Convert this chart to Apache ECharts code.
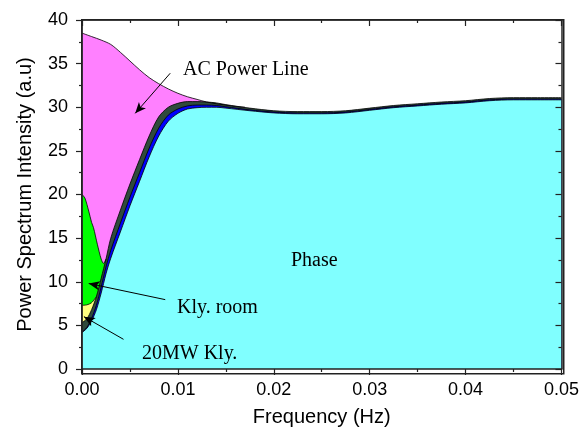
<!DOCTYPE html>
<html>
<head>
<meta charset="utf-8">
<script src="https://cdn.jsdelivr.net/npm/echarts@6/dist/echarts.min.js"></script>
<style>
  html, body { margin: 0; padding: 0; background: #fff; }
  #chart { width: 582px; height: 432px; }
</style>
</head>
<body>
<div id="chart"></div>
<script>
// frequency grid for the phase curve and the thin layers stacked on it
var freq = [0, 0.0005, 0.001, 0.0015, 0.002, 0.0025, 0.003, 0.004, 0.005, 0.006, 0.007, 0.008, 0.009,
  0.010, 0.011, 0.012, 0.013, 0.014, 0.015, 0.0175, 0.02, 0.0225, 0.025, 0.0275, 0.03, 0.0325,
  0.035, 0.0375, 0.04, 0.0425, 0.045, 0.0475, 0.05];
var phase = [4.2, 4.65, 5.5, 6.8, 8.7, 10.9, 12.7, 15.7, 18.7, 21.5, 24.3, 26.7, 28.4,
  29.3, 29.8, 29.95, 30.0, 30.0, 29.9, 29.6, 29.35, 29.25, 29.25, 29.35, 29.65, 29.95,
  30.15, 30.35, 30.5, 30.75, 30.85, 30.85, 30.85];
var bandBlue = [4.2, 4.75, 5.8, 7.3, 9.4, 11.7, 13.6, 16.7, 19.7, 22.5, 25.3, 27.6, 29.1,
  29.8, 30.15, 30.25, 30.25, 30.2, 30.05, 29.7, 29.45, 29.35, 29.35, 29.45, 29.75, 30.05,
  30.25, 30.45, 30.6, 30.85, 30.95, 30.95, 30.95];
var bandDark = [5.3, 5.75, 6.8, 8.3, 10.4, 12.6, 15.0, 18.2, 21.2, 24.0, 26.7, 28.9, 30.0,
  30.45, 30.65, 30.65, 30.6, 30.5, 30.3, 29.9, 29.6, 29.5, 29.5, 29.6, 29.9, 30.2,
  30.4, 30.6, 30.75, 31.0, 31.1, 31.1, 31.1];

// 20MW klystron layer (only near zero)
var kly20Freq = [0, 0.0005, 0.001, 0.0015];
var kly20 = [7.3, 7.35, 7.6, 8.3];

// klystron room layer
var klyRoomFreq = [0, 0.0003, 0.0007, 0.001, 0.0012, 0.0016, 0.002, 0.00225, 0.0025];
var klyRoom = [20.0, 19.6, 18.1, 16.8, 16.2, 14.3, 12.6, 12.1, 12.6];

// AC power line layer
var acFreq = [0, 0.001, 0.002, 0.003, 0.004, 0.005, 0.006, 0.007, 0.008, 0.009, 0.010,
  0.011, 0.012, 0.013, 0.014, 0.015, 0.016, 0.017];
var acLine = [38.5, 38.1, 37.7, 37.2, 36.3, 35.3, 34.3, 33.4, 32.7, 32.1, 31.6,
  31.2, 30.9, 30.6, 30.4, 30.25, 30.1, 30.0];

function pairs(xs, ys) {
  return xs.map(function (x, i) { return [x, ys[i]]; });
}

function layer(name, xs, ys, color) {
  return {
    name: name,
    type: 'line',
    data: pairs(xs, ys),
    symbol: 'none',
    smooth: 0.3,
    lineStyle: { color: '#000', width: 0.8 },
    areaStyle: { color: color, opacity: 1 },
    silent: true
  };
}

function axisLine() {
  return { show: true, onZero: false, lineStyle: { color: '#222', width: 1.5 } };
}
function ticks(inside, len) {
  return { show: true, inside: inside, length: len, lineStyle: { color: '#222', width: 1.2 } };
}
function minor(len) {
  return { show: true, splitNumber: 2, length: len, lineStyle: { color: '#222', width: 1.2 } };
}

var chart = echarts.init(document.getElementById('chart'));

var tickFont = { fontFamily: 'Liberation Sans', fontSize: 18, color: '#000' };

var phaseSeries = layer('Phase', freq, phase, '#80ffff');
phaseSeries.markLine = {
  silent: true,
  symbol: ['none', 'arrow'],
  symbolSize: [7, 11],
  label: { show: false },
  lineStyle: { color: '#000', width: 1, type: 'solid' },
  data: [
    [{ coord: [0.0092, 33.9] }, { coord: [0.00555, 29.3] }],
    [{ coord: [0.00868, 7.95] }, { coord: [0.0007, 9.8] }],
    [{ coord: [0.00433, 3.4] }, { coord: [0.0002, 6.0] }]
  ]
};

var option = {
  animation: false,
  grid: { left: 82, right: 19, top: 20, bottom: 59 },
  xAxis: [{
    type: 'value',
    min: 0, max: 0.05, interval: 0.01,
    position: 'bottom',
    z: 10,
    name: 'Frequency (Hz)',
    nameLocation: 'middle',
    nameGap: 38,
    nameTextStyle: { fontFamily: 'Liberation Sans', fontSize: 20, color: '#000' },
    axisLine: axisLine(),
    axisTick: ticks(false, 6),
    minorTick: minor(3),
    axisLabel: Object.assign({ margin: 12, formatter: function (v) { return v.toFixed(2); } }, tickFont),
    splitLine: { show: false }
  }, {
    type: 'value',
    min: 0, max: 0.05, interval: 0.01,
    position: 'top',
    z: 10,
    axisLine: axisLine(),
    axisTick: ticks(true, 6),
    minorTick: minor(3),
    axisLabel: { show: false },
    splitLine: { show: false }
  }],
  yAxis: [{
    type: 'value',
    min: 0, max: 40, interval: 5,
    position: 'left',
    z: 10,
    name: 'Power Spectrum Intensity (a.u)',
    nameLocation: 'middle',
    nameGap: 47,
    nameTextStyle: { fontFamily: 'Liberation Sans', fontSize: 20, color: '#000' },
    axisLine: axisLine(),
    axisTick: ticks(false, 6),
    minorTick: minor(3),
    axisLabel: Object.assign({ margin: 14 }, tickFont),
    splitLine: { show: false }
  }, {
    type: 'value',
    min: 0, max: 40, interval: 5,
    position: 'right',
    z: 10,
    axisLine: axisLine(),
    axisTick: ticks(true, 6),
    minorTick: minor(3),
    axisLabel: { show: false },
    splitLine: { show: false }
  }],
  graphic: [
    // plot frame
    { type: 'rect', z: 90, silent: true, left: 81, top: 19,
      shape: { x: 0, y: 0, width: 482, height: 354 },
      style: { fill: 'rgba(0,0,0,0)', stroke: '#222', lineWidth: 1.5 } },
    { type: 'text', z: 100, left: 183, top: 60, style: { text: 'AC Power Line', font: '20px "Liberation Serif"', fill: '#000' } },
    { type: 'text', z: 100, left: 291, top: 251, style: { text: 'Phase', font: '20px "Liberation Serif"', fill: '#000' } },
    { type: 'text', z: 100, left: 177, top: 298, style: { text: 'Kly. room', font: '20px "Liberation Serif"', fill: '#000' } },
    { type: 'text', z: 100, left: 142, top: 344, style: { text: '20MW Kly.', font: '20px "Liberation Serif"', fill: '#000' } }
  ],
  series: [
    layer('AC Power Line', acFreq, acLine, '#ff80ff'),
    layer('Kly. room', klyRoomFreq, klyRoom, '#00ff00'),
    layer('20MW Kly.', kly20Freq, kly20, '#ffff80'),
    layer('Band', freq, bandDark, '#2f4a3c'),
    layer('Band blue', freq, bandBlue, '#0000ff'),
    phaseSeries,
    { type: 'line', xAxisIndex: 1, yAxisIndex: 1, data: [[0, 0]], symbol: 'none', lineStyle: { width: 0 }, silent: true }
  ]
};

chart.setOption(option);
</script>
</body>
</html>
